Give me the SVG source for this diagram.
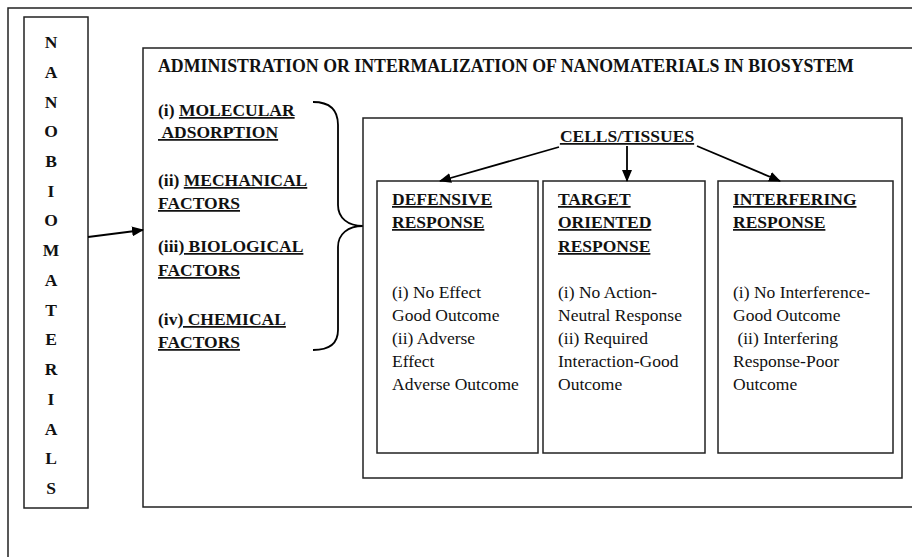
<svg xmlns="http://www.w3.org/2000/svg" width="912" height="557" viewBox="0 0 912 557">
<defs>
<marker id="ah" markerWidth="12" markerHeight="10" refX="11" refY="5" orient="auto" markerUnits="userSpaceOnUse">
<path d="M0,0 L12,5 L0,10 Z" fill="#000"/>
</marker>
</defs>
<style>
.box{fill:none;stroke:#222;stroke-width:1.5}
.t{font-family:"Liberation Serif","Times New Roman",serif;font-size:17.5px;fill:#111;white-space:pre}
.b{font-weight:bold}
.u{text-decoration:underline}
.ln{stroke:#000;stroke-width:1.8;fill:none}
</style>
<rect width="912" height="557" fill="#fff"/>
<g id="frame">
<path class="box" d="M8,557 L8,8 L912,8"/>
</g>
<g id="nanomaterials">
<rect class="box" x="24" y="17" width="64" height="491"/>
<g class="t b" text-anchor="middle">
<text x="51" y="48">N</text>
<text x="51" y="77.7">A</text>
<text x="51" y="107.5">N</text>
<text x="51" y="137.2">O</text>
<text x="51" y="166.9">B</text>
<text x="51" y="196.7">I</text>
<text x="51" y="226.4">O</text>
<text x="51" y="256.1">M</text>
<text x="51" y="285.8">A</text>
<text x="51" y="315.6">T</text>
<text x="51" y="345.3">E</text>
<text x="51" y="375">R</text>
<text x="51" y="404.8">I</text>
<text x="51" y="434.5">A</text>
<text x="51" y="464.2">L</text>
<text x="51" y="494">S</text>
</g>
</g>
<g id="administration">
<path class="box" d="M912,48 L143,48 L143,507 L912,507"/>
<text class="t b" x="158" y="72" style="font-size:17.8px">ADMINISTRATION OR INTERMALIZATION OF NANOMATERIALS IN BIOSYSTEM</text>
</g>
<g id="factors" class="t b">
<text x="158" y="116">(i) <tspan class="u">MOLECULAR</tspan></text>
<text x="158" y="138" xml:space="preserve"><tspan class="u"> ADSORPTION</tspan></text>
<text x="158" y="186">(ii) <tspan class="u">MECHANICAL</tspan></text>
<text x="158" y="209"><tspan class="u">FACTORS</tspan></text>
<text x="158" y="252">(iii<tspan class="u">) BIOLOGICAL</tspan></text>
<text x="158" y="276"><tspan class="u">FACTORS</tspan></text>
<text x="158" y="325">(iv<tspan class="u">) CHEMICAL</tspan></text>
<text x="158" y="348"><tspan class="u">FACTORS</tspan></text>
</g>
<g id="brace">
<path class="ln" stroke-width="1.5" d="M313,102 C330,102 338,110 338,125 L338,205 C338,218 348,226 363,226 C348,226 338,234 338,247 L338,330 C338,343 330,350 313,350"/>
</g>
<g id="cells">
<rect class="box" x="363" y="118" width="539" height="360"/>
<text class="t b u" x="627" y="142" text-anchor="middle">CELLS/TISSUES</text>
</g>
<g id="defensive">
<rect class="box" x="377" y="181" width="161" height="272"/>
<text class="t b u" x="392" y="205">DEFENSIVE</text>
<text class="t b u" x="392" y="228">RESPONSE</text>
<text class="t" x="392" y="298">(i) No Effect</text>
<text class="t" x="392" y="321">Good Outcome</text>
<text class="t" x="392" y="344">(ii) Adverse</text>
<text class="t" x="392" y="367">Effect</text>
<text class="t" x="392" y="390">Adverse Outcome</text>
</g>
<g id="target">
<rect class="box" x="543" y="181" width="162" height="272"/>
<text class="t b u" x="558" y="205">TARGET</text>
<text class="t b u" x="558" y="228">ORIENTED</text>
<text class="t b u" x="558" y="252">RESPONSE</text>
<text class="t" x="558" y="298">(i) No Action-</text>
<text class="t" x="558" y="321">Neutral Response</text>
<text class="t" x="558" y="344">(ii) Required</text>
<text class="t" x="558" y="367">Interaction-Good</text>
<text class="t" x="558" y="390">Outcome</text>
</g>
<g id="interfering">
<rect class="box" x="718" y="181" width="175" height="272"/>
<text class="t b u" x="733" y="205">INTERFERING</text>
<text class="t b u" x="733" y="228">RESPONSE</text>
<text class="t" x="733" y="298">(i) No Interference-</text>
<text class="t" x="733" y="321">Good Outcome</text>
<text class="t" x="733" y="344" xml:space="preserve"> (ii) Interfering</text>
<text class="t" x="733" y="367">Response-Poor</text>
<text class="t" x="733" y="390">Outcome</text>
</g>
<g id="connectors">
<line class="ln" x1="88" y1="237" x2="143" y2="230" marker-end="url(#ah)"/>
<line class="ln" x1="559" y1="147" x2="440" y2="181" marker-end="url(#ah)"/>
<line class="ln" x1="627" y1="146" x2="627" y2="181" marker-end="url(#ah)"/>
<line class="ln" x1="697" y1="146" x2="780" y2="181" marker-end="url(#ah)"/>
</g>
</svg>
